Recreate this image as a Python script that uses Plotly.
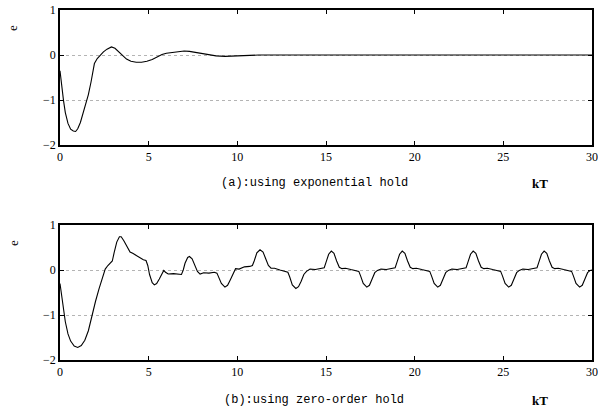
import plotly.graph_objects as go
from plotly.subplots import make_subplots

# (a) exponential hold
xa = [0, 0.1, 0.2, 0.3, 0.45, 0.6, 0.75, 0.88, 1.0, 1.15, 1.3, 1.45, 1.6, 1.75, 1.94,
      2.1, 2.25, 2.45, 2.65, 2.9, 3.1, 3.3, 3.5, 3.75, 4.0, 4.3, 4.6, 4.9, 5.2, 5.5,
      5.75, 6.0, 6.5, 7.0, 7.3, 7.6, 8.0, 8.4, 8.8, 9.3, 9.8, 10.3, 10.8, 11.2, 30]
ya = [-0.35, -0.72, -1.02, -1.28, -1.52, -1.65, -1.69, -1.7, -1.64, -1.5, -1.3, -1.1, -0.88, -0.6, -0.19,
      -0.08, -0.01, 0.07, 0.13, 0.18, 0.15, 0.07, -0.01, -0.09, -0.14, -0.16, -0.16, -0.14, -0.1, -0.04,
      0.01, 0.04, 0.07, 0.09, 0.08, 0.06, 0.03, 0.0, -0.02, -0.03, -0.02, -0.02, -0.01, 0.0, 0.0]

# (b) zero-order hold
xb = [0, 0.1, 0.2, 0.3, 0.45, 0.6, 0.8, 1.0, 1.2, 1.4, 1.6, 1.8, 2.0, 2.2, 2.4, 2.55, 2.7, 2.85,
      2.95, 3.05, 3.2, 3.35, 3.45, 3.6, 3.8, 3.95, 4.1, 4.3, 4.5, 4.7, 4.85, 4.95, 5.05, 5.2, 5.32,
      5.45, 5.6, 5.75, 5.85, 5.95, 6.1, 6.4, 6.7, 6.85, 6.95, 7.05, 7.2, 7.3, 7.45, 7.6, 7.75, 7.9,
      8.1, 8.4, 8.7, 8.85, 8.95, 9.1, 9.3, 9.45, 9.6, 9.75, 9.9, 10.1, 10.4, 10.7, 10.85, 10.95,
      11.1, 11.28, 11.45, 11.6, 11.75, 11.9, 12.1, 12.4, 12.7, 12.85, 12.95, 13.1, 13.3, 13.45,
      13.6, 13.75, 13.9, 14.1, 14.4, 14.7, 14.9,
      15.0, 15.15, 15.3, 15.45, 15.6, 15.75, 15.9, 16.1, 16.4, 16.7, 16.85, 16.95, 17.1, 17.3,
      17.45, 17.6, 17.75, 17.9, 18.1, 18.4, 18.7, 18.9,
      19.0, 19.15, 19.3, 19.45, 19.6, 19.75, 19.9, 20.1, 20.4, 20.7, 20.85, 20.95, 21.1, 21.3,
      21.45, 21.6, 21.75, 21.9, 22.1, 22.4, 22.7, 22.9,
      23.0, 23.15, 23.3, 23.45, 23.6, 23.75, 23.9, 24.1, 24.4, 24.7, 24.85, 24.95, 25.1, 25.3,
      25.45, 25.6, 25.75, 25.9, 26.1, 26.4, 26.7, 26.9,
      27.0, 27.15, 27.3, 27.45, 27.6, 27.75, 27.9, 28.1, 28.4, 28.7, 28.85, 28.95, 29.1, 29.3,
      29.45, 29.6, 29.75, 29.9, 30.0]
yb = [-0.3, -0.62, -0.92, -1.15, -1.42, -1.58, -1.69, -1.72, -1.68, -1.56, -1.35, -1.0, -0.7, -0.42, -0.18, 0.02, 0.1, 0.15,
      0.2, 0.38, 0.62, 0.74, 0.74, 0.65, 0.5, 0.4, 0.37, 0.32, 0.27, 0.23, 0.21, 0.1, -0.1, -0.28, -0.33,
      -0.3, -0.2, -0.07, -0.01, -0.05, -0.09, -0.08, -0.09, -0.1, 0.0, 0.15, 0.28, 0.3, 0.25, 0.12, -0.03, -0.09,
      -0.06, -0.07, -0.05, -0.07, -0.15, -0.3, -0.38, -0.34, -0.22, -0.08, 0.03, 0.02, 0.07, 0.08, 0.1, 0.2,
      0.38, 0.45, 0.4, 0.25, 0.1, 0.04, 0.04, 0.0, -0.03, -0.05, -0.15, -0.33, -0.41, -0.37,
      -0.25, -0.1, -0.03, 0.02, 0.01, 0.04, 0.05,
      0.17, 0.35, 0.42, 0.37, 0.2, 0.06, 0.03, 0.04, 0.01, -0.02, -0.03, -0.13, -0.3, -0.38,
      -0.34, -0.2, -0.06, -0.01, 0.02, 0.01, 0.04, 0.05,
      0.17, 0.35, 0.42, 0.37, 0.2, 0.06, 0.03, 0.04, 0.01, -0.02, -0.03, -0.13, -0.3, -0.38,
      -0.34, -0.2, -0.06, -0.01, 0.02, 0.01, 0.04, 0.05,
      0.17, 0.35, 0.42, 0.37, 0.2, 0.06, 0.03, 0.04, 0.01, -0.02, -0.03, -0.13, -0.3, -0.38,
      -0.34, -0.2, -0.06, -0.01, 0.02, 0.01, 0.04, 0.05,
      0.17, 0.35, 0.42, 0.37, 0.2, 0.06, 0.03, 0.04, 0.01, -0.02, -0.03, -0.13, -0.3, -0.38,
      -0.34, -0.2, -0.06, -0.01, 0.0]

x_ticks = [0, 5, 10, 15, 20, 25, 30]
y_ticks = [1, 0, -1, -2]
captions = ["(a):using exponential hold", "(b):using zero-order hold"]
x_label = "kT"
y_label = "e"

H = 411
W = 598
ML, MR, MT, MB = 60, 6, 10, 51
PH = H - MT - MB
PW = W - ML - MR


def py(px):
    return (H - MB - px) / PH


fig = make_subplots(rows=2, cols=1)
fig.add_trace(go.Scatter(x=xa, y=ya, mode="lines", line=dict(color="black", width=1.1),
                         showlegend=False), row=1, col=1)
fig.add_trace(go.Scatter(x=xb, y=yb, mode="lines", line=dict(color="black", width=1.1),
                         showlegend=False), row=2, col=1)

tickfont = dict(family="Liberation Serif", size=12, color="black")
axis_common = dict(showline=True, linecolor="black", linewidth=1.5, mirror="ticks",
                   ticks="inside", ticklen=4, tickcolor="black", tickfont=tickfont,
                   zeroline=False, automargin=False)
fig.update_xaxes(range=[0, 30], tickvals=x_ticks, showgrid=False, **axis_common)
fig.update_yaxes(range=[-2, 1], tickvals=y_ticks, showgrid=True, gridcolor="#b4b4b4",
                 griddash="dot", gridwidth=1, **axis_common)

fig.update_layout(
    width=W, height=H,
    margin=dict(l=ML, r=MR, t=MT, b=MB),
    paper_bgcolor="white", plot_bgcolor="white",
    xaxis=dict(domain=[0, 1]), xaxis2=dict(domain=[0, 1]),
    yaxis=dict(domain=[py(145), py(10)]),
    yaxis2=dict(domain=[py(360), py(225)]),
)

capfont = dict(family="Liberation Mono", size=12, color="black")
lblfont = dict(family="Liberation Serif", size=13, color="black")
for cap, ycap in zip(captions, [183, 400]):
    fig.add_annotation(text=cap, xref="paper", yref="paper",
                       x=(314 - ML) / PW, y=py(ycap),
                       xanchor="center", yanchor="middle", showarrow=False, font=capfont)
    fig.add_annotation(text="<b>" + x_label + "</b>", xref="paper", yref="paper",
                       x=(540 - ML) / PW, y=py(ycap),
                       xanchor="center", yanchor="middle", showarrow=False, font=lblfont)
for ye in [28, 243]:
    fig.add_annotation(text=y_label, xref="paper", yref="paper",
                       x=(13 - ML) / PW, y=py(ye), textangle=-90,
                       xanchor="center", yanchor="middle", showarrow=False, font=lblfont)

fig.write_html("out.html")
